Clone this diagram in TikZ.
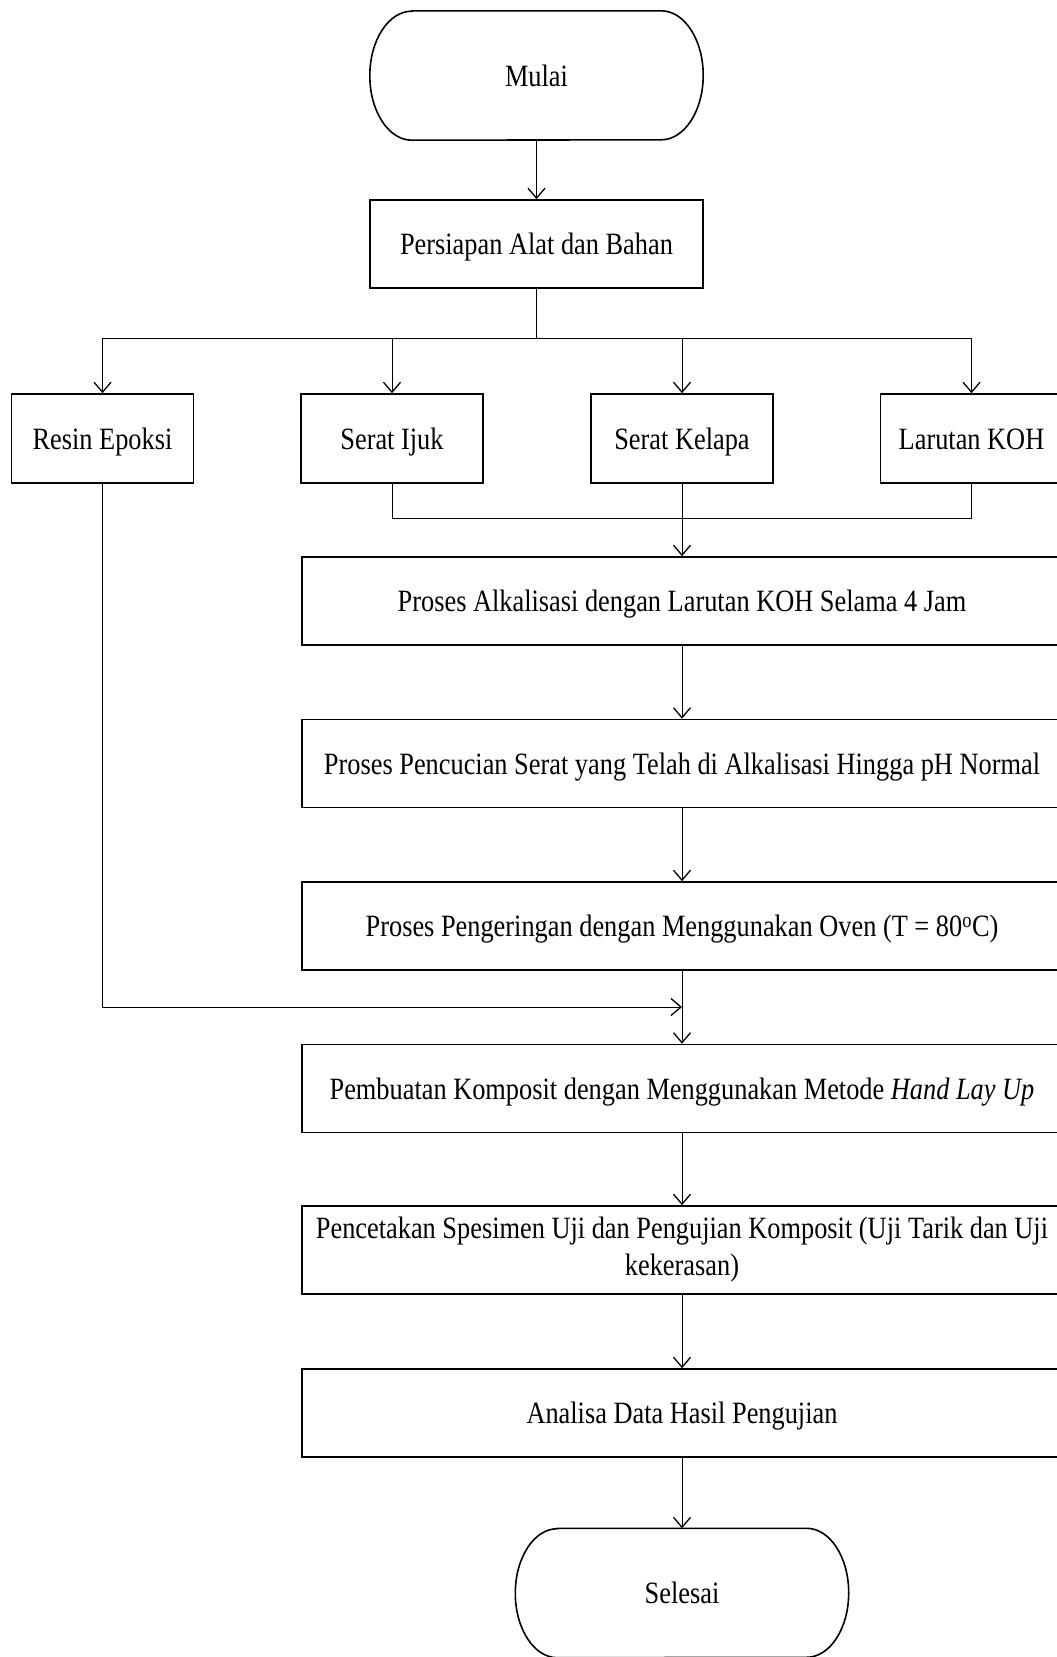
\documentclass[tikz,border=0pt]{standalone}
\usepackage{fontspec}
\setmainfont{Liberation Serif}[FakeStretch=0.85]
\usetikzlibrary{arrows.meta,calc}
\newcommand{\fsz}{\fontsize{31}{37}\selectfont}
\begin{document}
\begin{tikzpicture}[x=1pt,y=1pt,
  plainbox/.style={draw,line width=1.6pt,minimum height=88pt,inner sep=0pt,align=center,font=\fsz},
  box/.style={plainbox,text height=28pt,text depth=7pt},
  smallbox/.style={box,minimum width=182pt,minimum height=89pt},
  widebox/.style={box,minimum width=760pt},
  widebox2/.style={plainbox,minimum width=760pt},
  term/.style={minimum width=333pt,minimum height=129pt,inner sep=0pt,font=\fsz,text height=28pt,text depth=7pt},
  termline/.style={line width=1.6pt},
  ln/.style={line width=1pt},
  arr/.style={line width=1pt,-{Straight Barb[length=10pt,width=17pt,line width=1.3pt]}}]
\useasboundingbox (0,0) rectangle (1057,-1657);
\clip (0,0) rectangle (1057,-1657);

% terminals
\node[term] (mulai) at (536.5,-75.5) {Mulai};
\draw[termline] ([xshift=42pt]mulai.north west) -- ([xshift=-42pt]mulai.north east)
  arc[start angle=90,end angle=-90,x radius=42pt,y radius=64.5pt]
  -- ([xshift=42pt]mulai.south west)
  arc[start angle=270,end angle=90,x radius=42pt,y radius=64.5pt] -- cycle;

\node[box,minimum width=333pt] (prep) at (536.5,-244) {Persiapan Alat dan Bahan};

\node[smallbox] (resin) at (102.5,-438.5) {Resin Epoksi};
\node[smallbox] (ijuk) at (392,-438.5) {Serat Ijuk};
\node[smallbox] (kelapa) at (682,-438.5) {Serat Kelapa};
\node[smallbox] (koh) at (971.5,-438.5) {Larutan KOH};

\node[widebox] (alk) at (682,-601) {Proses Alkalisasi dengan Larutan KOH Selama 4 Jam};
\node[widebox] (cuci) at (682,-763.5) {Proses Pencucian Serat yang Telah di Alkalisasi Hingga pH Normal};
\node[widebox] (kering) at (682,-926) {Proses Pengeringan dengan Menggunakan Oven (T = 80\textsuperscript{o}C)};
\node[widebox] (buat) at (682,-1088.5) {Pembuatan Komposit dengan Menggunakan Metode \textit{Hand Lay Up}};
\node[widebox2] (cetak) at (682,-1250) {Pencetakan Spesimen Uji dan Pengujian Komposit (Uji Tarik dan Uji\\kekerasan)};
\node[widebox] (analisa) at (682,-1413) {Analisa Data Hasil Pengujian};

\node[term] (selesai) at (682,-1593) {Selesai};
\draw[termline] ([xshift=42pt]selesai.north west) -- ([xshift=-42pt]selesai.north east)
  arc[start angle=90,end angle=-90,x radius=42pt,y radius=64.5pt]
  -- ([xshift=42pt]selesai.south west)
  arc[start angle=270,end angle=90,x radius=42pt,y radius=64.5pt] -- cycle;

% connectors
\draw[arr] (mulai.south) -- (prep.north);
\coordinate (split) at (536.5,-338);
\draw[ln] (prep.south) -- (split);
\draw[ln] (resin.north |- split) -- (koh.north |- split);
\foreach \n in {resin,ijuk,kelapa,koh} \draw[arr] (\n.north |- split) -- (\n.north);
\coordinate (merge) at (682,-518);
\draw[ln] (ijuk.south) |- (koh.south |- merge) -- (koh.south);
\draw[arr] (kelapa.south) -- (alk.north);
\draw[arr] (alk.south) -- (cuci.north);
\draw[arr] (cuci.south) -- (kering.north);
\coordinate (join) at (682,-1007);
\draw[arr] (resin.south) |- (join);
\draw[arr] (kering.south) -- (buat.north);
\draw[arr] (buat.south) -- (cetak.north);
\draw[arr] (cetak.south) -- (analisa.north);
\draw[arr] (analisa.south) -- (selesai.north);
\end{tikzpicture}
\end{document}
